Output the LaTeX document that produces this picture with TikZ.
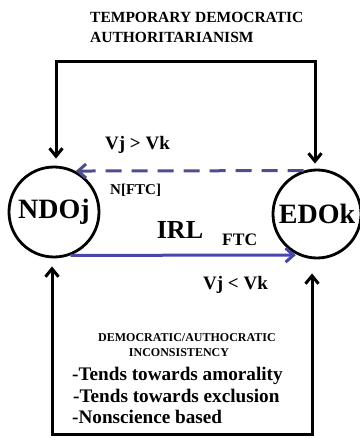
\documentclass[tikz,border=0pt]{standalone}
\usepackage{fontspec}
\setmainfont{Liberation Serif}
\usetikzlibrary{arrows.meta}
\definecolor{dashblue}{RGB}{78,78,140}
\definecolor{solidblue}{RGB}{72,72,170}
\begin{document}
\begin{tikzpicture}[x=1pt,y=-1pt,
  blk/.style={line width=3pt, black},
  tipkk/.style={{Straight Barb[length=8pt,width=13pt]}-{Straight Barb[length=8pt,width=13pt]}},
  org/.style={circle, draw, line width=2.8pt, inner sep=0pt, font=\bfseries\fontsize{28}{30}\selectfont},
  lbl/.style={inner sep=0pt, font=\bfseries\fontsize{#1}{#1}\selectfont},
  lbl/.default=15
]
\useasboundingbox[fill=white] (0,0) rectangle (359,438);

% organisations
\node[org, minimum size=90pt] (ndo) at (54,212) {NDOj};
\node[org, minimum size=88pt] (edo) at (317,214) {EDOk};

% top bracket
\coordinate (tl) at (56,62);
\coordinate (tr) at (315,62);
\draw[blk, tipkk, shorten <=7pt, shorten >=5pt] (tl |- ndo.north) -- (tl) -- (tr) -- (tr |- edo.north);

% bottom bracket
\coordinate (bl) at (52,434);
\coordinate (br) at (312,434);
\draw[blk, tipkk, shorten <=8pt, shorten >=14pt] (bl |- ndo.south) -- (bl) -- (br) -- (br |- edo.south);

% horizontal arrows
\draw[line width=3pt, dashblue, dash pattern=on 16pt off 10pt,
      -{Straight Barb[length=8pt,width=14pt]}] (edo.107.3) -- (ndo.62.8);
\draw[line width=3pt, solidblue,
      -{Straight Barb[length=8pt,width=14pt]}, shorten >=2pt] (ndo.-69) -- (edo.245.4);

% top texts
\node[lbl=15.5, anchor=west] (t1) at (90,17) {TEMPORARY DEMOCRATIC};
\node[lbl=15.5, anchor=west] (t2) at (90,37) {AUTHORITARIANISM};

% arrow labels
\node[lbl=19, anchor=base west] (vgt) at (105,150) {Vj > Vk};
\node[lbl=15, anchor=base west] (nftc) at (110,194) {N[FTC]};
\node[lbl=26, anchor=base] (irl) at (180,238) {IRL};
\node[lbl=17.5, anchor=base west] (ftc) at (222,245) {FTC};
\node[lbl=19, anchor=base west] (vlt) at (203,289) {Vj < Vk};

% bottom texts
\node[lbl=12] (b1) at (187,338) {DEMOCRATIC/AUTHOCRATIC};
\node[lbl=12] (b2) at (179,353) {INCONSISTENCY};
\node[lbl=19.2, anchor=base west] (b3) at (72,380) {-Tends towards amorality};
\node[lbl=19.2, anchor=base west] (b4) at (73,402) {-Tends towards exclusion};
\node[lbl=19.2, anchor=base west] (b5) at (72,423) {-Nonscience based};
\end{tikzpicture}
\end{document}
